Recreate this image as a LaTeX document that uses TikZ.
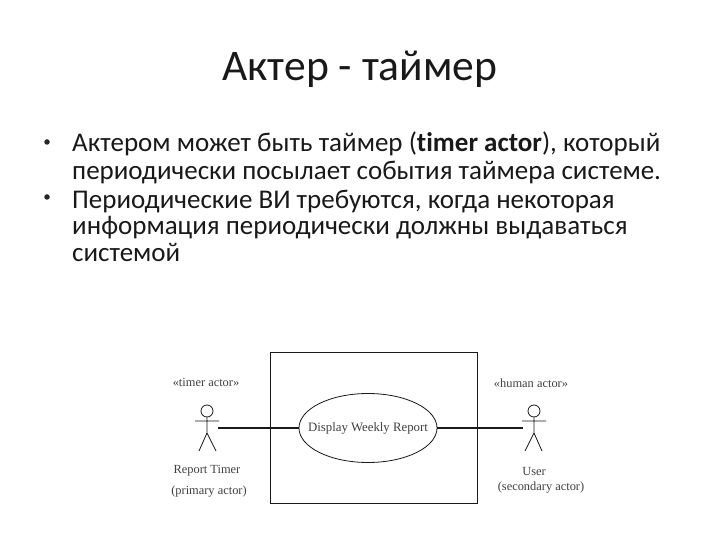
\documentclass[tikz,border=0pt]{standalone}
\usepackage{fontspec}
\setmainfont[Ligatures=NoCommon]{Carlito}
\newfontfamily\umlfont{Liberation Serif}
\usetikzlibrary{shapes.geometric}
\tikzset{
  titletext/.style={inner sep=0pt,anchor=base,font=\fontsize{43.6}{48}\selectfont,text=black!90},
  bodytext/.style={inner sep=0pt,anchor=base west,font=\fontsize{27}{30}\selectfont,text=black!90},
  bulletmark/.style={circle,fill=black!85,inner sep=0pt,minimum size=5.5pt},
  umltext/.style={inner sep=0pt,anchor=center,font=\umlfont\fontsize{12.4}{14}\selectfont,text=black!75},
  umlline/.style={draw=black!90,line width=0.8pt},
  assoc/.style={draw=black!90,line width=1.1pt},
}
\begin{document}
\begin{tikzpicture}[x=1pt,y=-1pt]
\useasboundingbox (0,0) rectangle (720,540);
\fill[white] (0,0) rectangle (720,540);
\node[titletext] (title) at (360,81) {Актер - таймер};
\node[bulletmark] (b1) at (47,142) {};
\node[bulletmark] (b2) at (47,197) {};
\node[bodytext] (l1) at (72,152) {Актером может быть таймер (\textbf{timer actor}), который};
\node[bodytext] (l2) at (72,180) {периодически посылает события таймера системе.};
\node[bodytext] (l3) at (72,208) {Периодические ВИ требуются, когда некоторая};
\node[bodytext] (l4) at (72,235) {информация периодически должны выдаваться};
\node[bodytext] (l5) at (72,261) {системой};
\node[draw=black!90,line width=0.8pt,minimum width=207pt,minimum height=151pt,inner sep=0pt] (sys) at (373.5,427.5) {};
\node[ellipse,draw=black!90,line width=0.8pt,fill=white,minimum width=138pt,minimum height=69pt,inner sep=0pt] (uc) at (368,428) {};
\node[umltext,font=\umlfont\fontsize{12.8}{15}\selectfont] (uclabel) at (368,428) {Display Weekly Report};
% left actor
\node[ellipse,umlline,minimum width=12pt,minimum height=12pt,inner sep=0pt] (h1) at (207,411) {};
\coordinate (n1) at (207,433);
\coordinate (a1l) at (195,421);
\coordinate (a1r) at (219,421);
\coordinate (f1l) at (199,451);
\coordinate (f1r) at (216,451);
\draw[umlline] (h1.south) -- (n1) (a1l) -- (a1r) (f1l) -- (n1) -- (f1r);
% right actor
\node[ellipse,umlline,minimum width=12pt,minimum height=12pt,inner sep=0pt] (h2) at (534,411) {};
\coordinate (n2) at (534,433);
\coordinate (a2l) at (522,421);
\coordinate (a2r) at (546,421);
\coordinate (f2l) at (525,451);
\coordinate (f2r) at (542,451);
\draw[umlline] (h2.south) -- (n2) (a2l) -- (a2r) (f2l) -- (n2) -- (f2r);
\coordinate (c1) at (218,428);
\coordinate (c2) at (523,428);
\draw[assoc] (c1) -- (uc.west);
\draw[assoc] (uc.east) -- (c2);
\node[umltext] (t1) at (206,382) {«timer actor»};
\node[umltext] (t2) at (207,471) {Report Timer};
\node[umltext] (t3) at (209,492) {(primary actor)};
\node[umltext] (t4) at (531,383) {«human actor»};
\node[umltext] (t5) at (534,471) {User};
\node[umltext] (t6) at (541,488) {(secondary actor)};
\end{tikzpicture}
\end{document}
